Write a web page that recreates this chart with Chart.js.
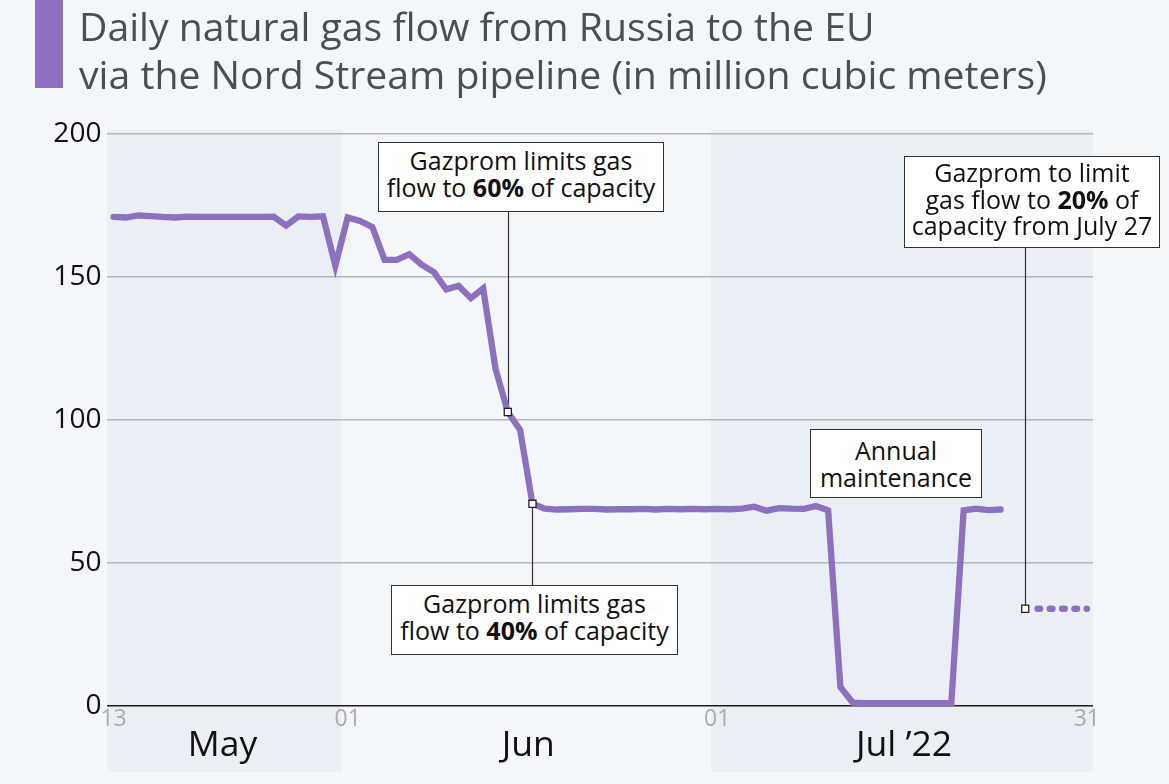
<!DOCTYPE html>
<html>
<head>
<meta charset="utf-8">
<script src="https://cdn.jsdelivr.net/npm/chart.js@4"></script>
<style>
  html, body { margin:0; padding:0; background:#f3f7fa; }
  #wrap { position:relative; width:1169px; height:784px; overflow:hidden; font-family:"Open Sans",sans-serif; }
  canvas { position:absolute; left:0; top:0; }
  #bar { position:absolute; left:35px; top:0; width:28px; height:88px; background:#8e70c1; }
  #title { position:absolute; left:79px; top:2px; font-size:39.2px; line-height:48px; color:#4a5052; white-space:nowrap; }
  .note { position:absolute; box-sizing:border-box; background:#fff; border:1px solid #333; color:#111;
          font-size:25px; line-height:26.7px; text-align:center; display:flex; align-items:center; justify-content:center; }
  .up { padding-bottom:6px; }
</style>
</head>
<body>
<div id="wrap">
  <canvas id="flowChart" width="1169" height="784"></canvas>
  <div id="bar"></div>
  <div id="title">Daily natural gas flow from Russia to the EU<br>via the Nord Stream pipeline (in million cubic meters)</div>
  <div class="note up" style="left:378px;top:142px;width:286px;height:70px"><div>Gazprom limits gas<br>flow to <b>60%</b> of capacity</div></div>
  <div class="note up" style="left:391px;top:585px;width:287px;height:70px"><div>Gazprom limits gas<br>flow to <b>40%</b> of capacity</div></div>
  <div class="note" style="left:810px;top:429px;width:172px;height:69px"><div>Annual<br>maintenance</div></div>
  <div class="note up" style="left:904px;top:156px;width:256px;height:92px"><div>Gazprom to limit<br>gas flow to <b>20%</b> of<br>capacity from July 27</div></div>
</div>
<script>
// =======================
// DATA
// =======================
const days = [
  13,14,15,16,17,18,19,20,21,22,23,24,25,26,27,28,29,30,31,
  1,2,3,4,5,6,7,8,9,10,11,12,13,14,15,16,17,18,19,20,21,22,23,24,25,26,27,28,29,30,
  1,2,3,4,5,6,7,8,9,10,11,12,13,14,15,16,17,18,19,20,21,22,23,24,25,26,27,28,29,30,31
];
const flowValues = [
  171,170.8,171.5,171.3,171,170.8,171.1,171,171,171,171,171,171,171.1,168,171.2,171,171.2,154,
  170.8,169.6,167.5,156,156,158,154.3,151.7,145.7,146.9,142.6,146,118,102.8,96.5,70.7,69,68.7,68.8,68.9,68.9,68.7,68.8,68.8,68.9,68.7,68.9,68.8,68.9,68.8,
  68.9,68.8,69,69.7,68.3,69.2,69,68.9,69.9,68.4,6.6,1.2,1,1,1,1,1,1,1,1,68.4,69,68.5,68.7,null,null,null,null,null,null,null
];
// planned flow, last five days of July
const limitIndex = [75,76,77,78,79];
const limitFlow = [34,34,34,34,34];
const limitValues = new Array(80).fill(null);
limitIndex.forEach((idx, i) => { limitValues[idx] = limitFlow[i]; });

const markerIndex = [32,34,74];
const markerFlow = [102.8,70.7,34];
const markerValues = new Array(80).fill(null);
markerIndex.forEach((idx, i) => { markerValues[idx] = markerFlow[i]; });

const yTicks = [0,50,100,150,200];
const shownDays = { 0:'13', 19:'01', 49:'01', 79:'31' };

// months: first and last category index, label, shaded or not
const monthFirst = [0, 19, 49];
const monthLast = [18, 48, 79];
const monthNames = ['May', 'Jun', 'Jul \u201922'];
const monthShaded = [true, false, true];

// leaders run from the marker to the edge of its note
const leaderEnd = [212, 585, 248];

// =======================
// PLUGINS
// =======================
const labelNudge = [-2, 2, 2];

const monthBands = {
  id: 'monthBands',
  beforeDraw(chart) {
    const { ctx, scales: { x } } = chart;
    const half = (x.getPixelForValue(1) - x.getPixelForValue(0)) / 2;
    ctx.save();
    monthNames.forEach((name, i) => {
      const left = x.getPixelForValue(monthFirst[i]) - half;
      const right = x.getPixelForValue(monthLast[i]) + half;
      if (monthShaded[i]) {
        ctx.fillStyle = '#e9eff5';
        ctx.fillRect(left, 130, right - left, 642);
      }
      ctx.fillStyle = '#111';
      ctx.font = '35.5px "Open Sans"';
      ctx.textAlign = 'center';
      ctx.textBaseline = 'middle';
      ctx.fillText(name, (left + right) / 2 + labelNudge[i], 746);
    });
    ctx.restore();
  }
};

const leaders = {
  id: 'leaders',
  beforeDatasetsDraw(chart) {
    const { ctx, scales: { x, y } } = chart;
    ctx.save();
    ctx.strokeStyle = '#333';
    ctx.lineWidth = 1.2;
    markerIndex.forEach((idx, i) => {
      const px = Math.round(x.getPixelForValue(idx)) + 0.5;
      ctx.beginPath();
      ctx.moveTo(px, y.getPixelForValue(markerFlow[i]));
      ctx.lineTo(px, leaderEnd[i]);
      ctx.stroke();
    });
    ctx.restore();
  }
};

// =======================
// CHART
// =======================
new Chart(document.getElementById('flowChart').getContext('2d'), {
  type: 'line',
  data: {
    labels: days.map(String),
    datasets: [
      { data: markerValues, showLine: false, order: 0, pointStyle: 'rect', pointRadius: 5,
        pointBackgroundColor: '#fff', pointBorderColor: '#222', pointBorderWidth: 1.3 },
      { data: flowValues, order: 1, borderColor: '#8e70c1', borderWidth: 6.3, pointRadius: 0,
        borderJoinStyle: 'miter', borderCapStyle: 'round', spanGaps: false },
      { data: limitValues, order: 2, borderColor: '#8e70c1', borderWidth: 6.5, pointRadius: 0,
        borderDash: [2.5, 9.81], borderCapStyle: 'round' }
    ]
  },
  options: {
    responsive: false,
    animation: false,
    events: [],
    layout: { padding: { top: 134, right: 76, left: 0, bottom: 0 } },
    plugins: { legend: { display: false }, tooltip: { enabled: false } },
    scales: {
      x: {
        type: 'category',
        offset: true,
        afterFit(s) { s.height = 78; },
        grid: { display: false, drawTicks: false },
        border: { display: false },
        ticks: {
          autoSkip: false, maxRotation: 0, minRotation: 0, padding: 0,
          color: '#a9acad',
          font: { family: 'Open Sans', size: 23 },
          callback(v, i) { return shownDays[i] || ''; }
        }
      },
      y: {
        min: 0,
        max: 200,
        afterFit(s) { s.width = 107.4; },
        afterBuildTicks(s) { s.ticks = yTicks.map(v => ({ value: v })); },
        border: { display: false },
        grid: {
          drawTicks: false,
          lineWidth: 1.4,
          color: c => c.tick.value === 0 ? '#1c1c1c' : '#b4b8ba'
        },
        ticks: { padding: 6, color: '#111', font: { family: 'Open Sans', size: 28 } }
      }
    }
  },
  plugins: [monthBands, leaders]
});
</script>
</body>
</html>
